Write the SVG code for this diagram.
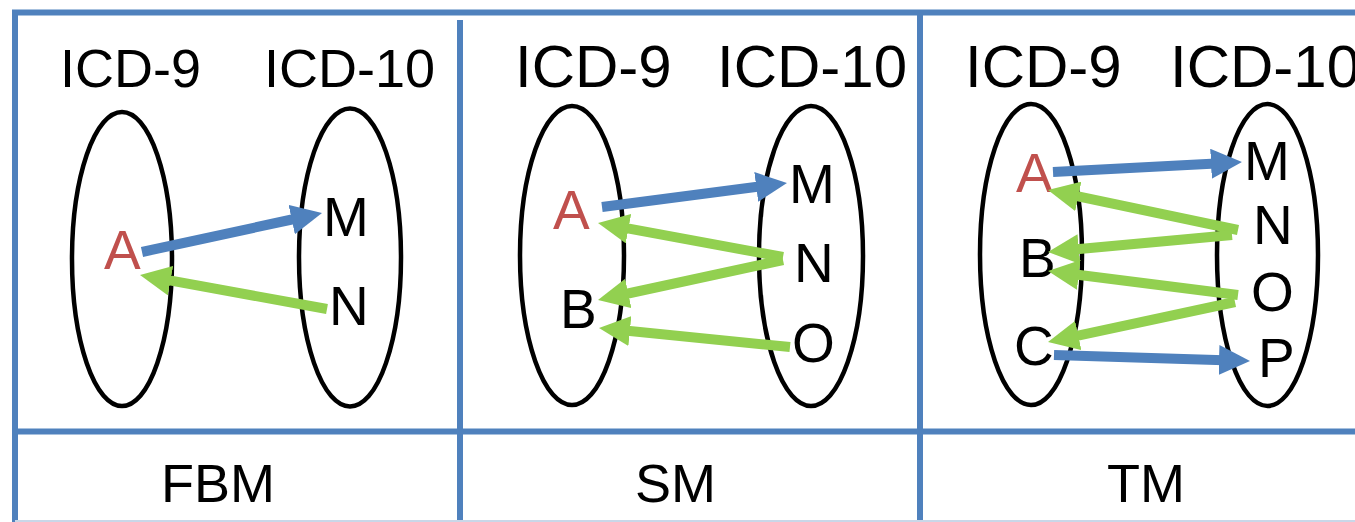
<svg xmlns="http://www.w3.org/2000/svg" width="1355" height="522" viewBox="0 0 1355 522">
<style>
.frame{stroke:#4F81BD;stroke-width:6;fill:none}
.set{fill:none;stroke:#000;stroke-width:4.5}
.t{font-family:"Liberation Sans",Arial,sans-serif;fill:#000}
.red{fill:#C0504D}
.blue{stroke:#4F81BD;stroke-width:10;fill:none;marker-end:url(#hb)}
.green{stroke:#92D050;stroke-width:10;fill:none;marker-end:url(#hg)}
</style>
<defs>
<marker id="hb" markerUnits="userSpaceOnUse" markerWidth="31" markerHeight="30" refX="5" refY="15" orient="auto" viewBox="0 0 31 30"><path d="M0,0 L31,15 L0,30 z" fill="#4F81BD"/></marker>
<marker id="hg" markerUnits="userSpaceOnUse" markerWidth="31" markerHeight="30" refX="5" refY="15" orient="auto" viewBox="0 0 31 30"><path d="M0,0 L31,15 L0,30 z" fill="#92D050"/></marker>
</defs>
<rect width="1355" height="522" fill="#fff"/>
<g id="table">
<line class="frame" x1="12" y1="12.5" x2="1355" y2="12.5"/>
<line class="frame" x1="15" y1="10" x2="15" y2="522"/>
<line class="frame" x1="12" y1="431.5" x2="1355" y2="431.5"/>
<line class="frame" x1="460" y1="20" x2="460" y2="522"/>
<line class="frame" x1="920" y1="14" x2="920" y2="522"/>
<line x1="15" y1="521" x2="1355" y2="521" stroke="#C9D7E8" stroke-width="2"/>
</g>
<g id="panel-fbm">
<text class="t" x="60" y="87" font-size="54">ICD-9</text>
<text class="t" x="264" y="87" font-size="54">ICD-10</text>
<ellipse class="set" cx="122" cy="259" rx="50" ry="147"/>
<ellipse class="set" cx="350" cy="257.5" rx="51" ry="149"/>
<text class="t red" x="104" y="269" font-size="55">A</text>
<text class="t" x="323" y="236" font-size="55">M</text>
<text class="t" x="329" y="325" font-size="55">N</text>
<text class="t" x="218" y="502" font-size="54" text-anchor="middle">FBM</text>
</g>
<g id="panel-sm">
<text class="t" x="515" y="87" font-size="60">ICD-9</text>
<text class="t" x="717" y="87" font-size="60">ICD-10</text>
<ellipse class="set" cx="572" cy="255.5" rx="52" ry="149.5"/>
<ellipse class="set" cx="811" cy="256" rx="52" ry="150"/>
<text class="t red" x="553" y="229" font-size="55">A</text>
<text class="t" x="560" y="328" font-size="55">B</text>
<text class="t" x="789" y="203" font-size="55">M</text>
<text class="t" x="794" y="282" font-size="55">N</text>
<text class="t" x="792" y="362" font-size="55">O</text>
<text class="t" x="675.5" y="502" font-size="54" text-anchor="middle">SM</text>
</g>
<g id="panel-tm">
<text class="t" x="965" y="87" font-size="60">ICD-9</text>
<text class="t" x="1170" y="87" font-size="60">ICD-10</text>
<ellipse class="set" cx="1031" cy="254.5" rx="51" ry="150.5"/>
<ellipse class="set" cx="1267.5" cy="255" rx="50.5" ry="151"/>
<text class="t red" x="1016" y="192" font-size="55">A</text>
<text class="t" x="1019" y="277" font-size="55">B</text>
<text class="t" x="1014" y="365" font-size="55">C</text>
<text class="t" x="1244" y="180" font-size="55">M</text>
<text class="t" x="1253" y="244" font-size="55">N</text>
<text class="t" x="1251" y="311" font-size="55">O</text>
<text class="t" x="1258" y="377" font-size="55">P</text>
<text class="t" x="1146" y="502" font-size="54" text-anchor="middle">TM</text>
</g>
<g id="connectors">
<line class="blue" x1="142" y1="252" x2="296.6" y2="218.5"/>
<line class="green" x1="327" y1="309" x2="165.6" y2="279.7"/>
<line class="blue" x1="602" y1="207" x2="761.2" y2="186.3"/>
<line class="green" x1="783" y1="257" x2="623.6" y2="227.7"/>
<line class="green" x1="783" y1="260" x2="623.4" y2="294.5"/>
<line class="green" x1="790" y1="347" x2="624.9" y2="330.6"/>
<line class="blue" x1="1053" y1="172" x2="1216" y2="163.4"/>
<line class="green" x1="1238" y1="230" x2="1073.4" y2="195.4"/>
<line class="green" x1="1232" y1="235" x2="1073.9" y2="249.6"/>
<line class="green" x1="1238" y1="295" x2="1073.8" y2="274.3"/>
<line class="green" x1="1235" y1="302" x2="1073.4" y2="336.6"/>
<line class="blue" x1="1054" y1="355" x2="1224" y2="360.2"/>
</g>
</svg>
